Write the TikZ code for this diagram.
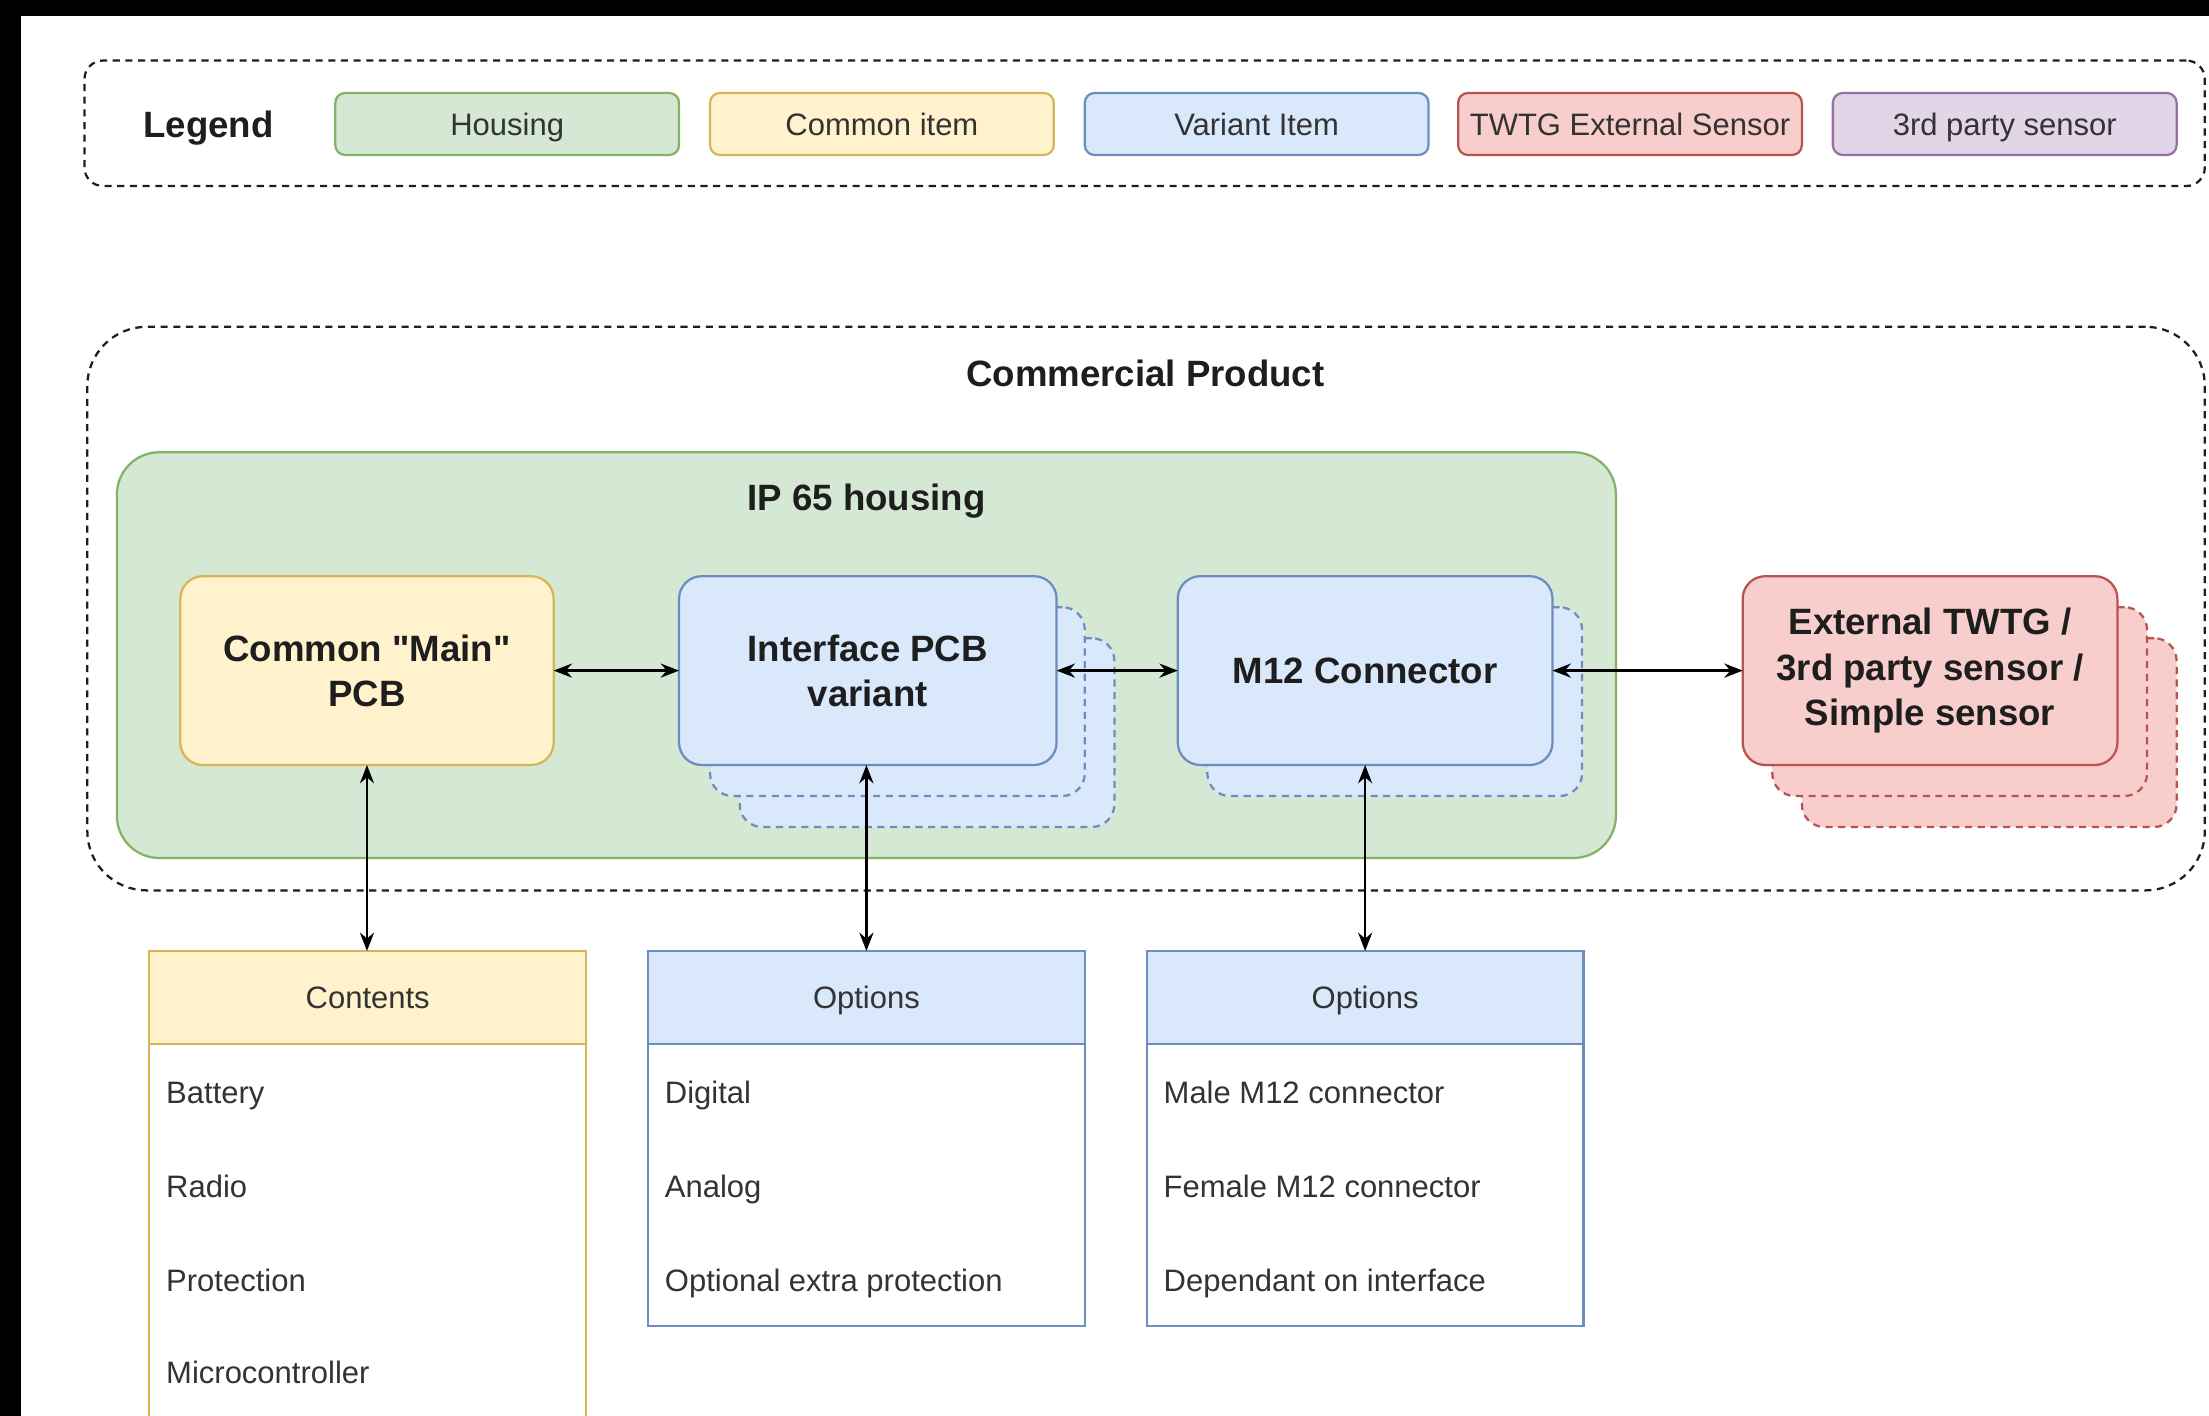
\documentclass[tikz,border=0pt]{standalone}
\usepackage{fontspec}
\setmainfont{Liberation Sans}[Ligatures=TeXOff]
\usetikzlibrary{arrows.meta}
\definecolor{gfill}{HTML}{D5E8D4}\definecolor{gline}{HTML}{82B366}
\definecolor{yfill}{HTML}{FFF2CC}\definecolor{yline}{HTML}{D6B656}
\definecolor{bfill}{HTML}{DAE8FC}\definecolor{bline}{HTML}{6C8EBF}
\definecolor{rfill}{HTML}{F8CECC}\definecolor{rline}{HTML}{B85450}
\definecolor{pfill}{HTML}{E1D5E7}\definecolor{pline}{HTML}{9673A6}
\definecolor{txt}{HTML}{1E1E1E}
\definecolor{txtsoft}{HTML}{333333}
\begin{document}
\begin{tikzpicture}[x=1pt,y=-1pt,
  every node/.style={inner sep=0pt,outer sep=0pt,text=txt},
  txtnormal/.style={font=\fontsize{22}{26}\selectfont,text=txtsoft,text height=20pt,text depth=4pt},
  txtbold/.style={font=\fontsize{26}{32}\selectfont\bfseries,text=txt,text height=23pt,text depth=4pt},
  txtboldml/.style={font=\fontsize{26}{32}\selectfont\bfseries,text=txt},
  legitem/.style={draw,line width=1.6pt,rounded corners=7pt,minimum width=244pt,minimum height=44pt,txtnormal},
  blockbox/.style={draw,line width=1.6pt,rounded corners=16pt,minimum width=266pt,minimum height=134pt,txtboldml,align=center},
  stackbox/.style={draw,line width=1.6pt,rounded corners=16pt,minimum width=266pt,minimum height=134pt,dash pattern=on 5pt off 4pt},
  dashframe/.style={draw=txt,line width=1.6pt,dash pattern=on 5pt off 4pt},
  conn/.style={line width=1.8pt,draw=black,{Stealth[length=13pt,width=10pt]}-{Stealth[length=13pt,width=10pt]}},
  tabhead/.style={draw,line width=1.6pt,minimum width=310pt,minimum height=66pt,txtnormal},
  tabbody/.style={draw,line width=1.6pt,fill=white,minimum width=310pt},
  tabrow/.style={txtnormal,anchor=west}
]
\useasboundingbox (0,0) rectangle (1568,1005);
\clip (0,0) rectangle (1568,1005);
\fill[black] (0,0) rectangle (1568,1005);
\fill[white] (15,11) rectangle (1580,1020);

% Legend
\node[dashframe,rounded corners=13pt,minimum width=1505pt,minimum height=89pt] (legbox) at (812.5,87.5) {};
\node[txtbold,text=txt] (legtitle) at (148,88) {Legend};
\node[legitem,fill=gfill,draw=gline] (lhous) at (360,88) {Housing};
\node[legitem,fill=yfill,draw=yline] (lcommon) at (626,88) {Common item};
\node[legitem,fill=bfill,draw=bline] (lvariant) at (892,88) {Variant Item};
\node[legitem,fill=rfill,draw=rline] (ltwtg) at (1157,88) {TWTG External Sensor};
\node[legitem,fill=pfill,draw=pline] (lthird) at (1423,88) {3rd party sensor};

% Commercial product frame
\node[dashframe,rounded corners=42pt,minimum width=1503pt,minimum height=400pt] (commercial) at (813.5,432) {};
\node[txtbold] (commlabel) at (813,265) {Commercial Product};

% Housing
\node[draw=gline,fill=gfill,line width=1.6pt,rounded corners=30pt,minimum width=1064pt,minimum height=288pt] (housing) at (615,465) {};
\node[txtbold] (houslabel) at (615,353) {IP 65 housing};

% Stacked shadows
\node[stackbox,draw=bline,fill=bfill] (ifaceS2) at (658,520) {};
\node[stackbox,draw=bline,fill=bfill] (ifaceS1) at (637,498) {};
\node[stackbox,draw=bline,fill=bfill] (m12S1) at (990,498) {};
\node[stackbox,draw=rline,fill=rfill] (extS2) at (1412,520) {};
\node[stackbox,draw=rline,fill=rfill] (extS1) at (1391,498) {};

% Main blocks
\node[blockbox,draw=yline,fill=yfill,minimum width=265pt] (mainpcb) at (260.5,476) {Common "Main"\\PCB};
\node[blockbox,draw=bline,fill=bfill,minimum width=268pt] (iface) at (616,476) {Interface PCB\\variant};
\node[blockbox,draw=bline,fill=bfill] (m12) at (969,476) {M12 Connector};
\node[blockbox,draw=rline,fill=rfill] (ext) at (1370,476) {External TWTG /\\3rd party sensor /\\Simple sensor};

% Tables
\node[tabbody,draw=yline,minimum height=299pt] (contbody) at (261,890.5) {};
\node[tabhead,draw=yline,fill=yfill] (conthead) at (261,708) {Contents};
\node[tabrow] (c1) at (118,775) {Battery};
\node[tabrow] (c2) at (118,842) {Radio};
\node[tabrow] (c3) at (118,909) {Protection};
\node[tabrow] (c4) at (118,974) {Microcontroller};

\node[tabbody,draw=bline,minimum height=200pt] (opt1body) at (615,841) {};
\node[tabhead,draw=bline,fill=bfill] (opt1head) at (615,708) {Options};
\node[tabrow] (o1) at (472,775) {Digital};
\node[tabrow] (o2) at (472,842) {Analog};
\node[tabrow] (o3) at (472,909) {Optional extra protection};

\node[tabbody,draw=bline,minimum height=200pt] (opt2body) at (969,841) {};
\node[tabhead,draw=bline,fill=bfill] (opt2head) at (969,708) {Options};
\node[tabrow] (p1) at (826,775) {Male M12 connector};
\node[tabrow] (p2) at (826,842) {Female M12 connector};
\node[tabrow] (p3) at (826,909) {Dependant on interface};

% Connectors
\draw[conn] (mainpcb.east) -- (iface.west);
\draw[conn] (iface.east) -- (m12.west);
\draw[conn] (m12.east) -- (ext.west);
\draw[conn] (mainpcb.south) -- (mainpcb.south |- conthead.north);
\draw[conn] (iface.south -| opt1head.north) -- (opt1head.north);
\draw[conn] (m12.south) -- (m12.south |- opt2head.north);
\end{tikzpicture}
\end{document}
